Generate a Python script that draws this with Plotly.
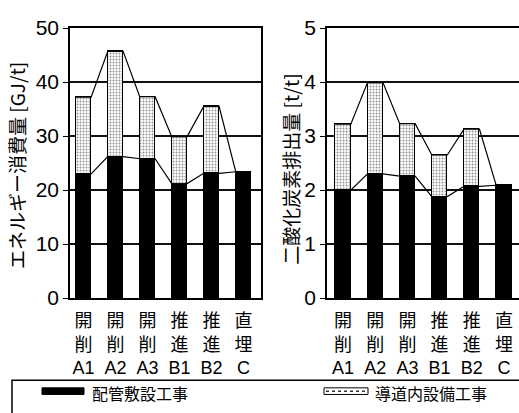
import plotly.graph_objects as go

# ---- data ----
category_kanji = [["開", "削"], ["開", "削"], ["開", "削"], ["推", "進"], ["推", "進"], ["直", "埋"]]
category_codes = ["A1", "A2", "A3", "B1", "B2", "C"]
energy_pipe = [23.0, 26.2, 25.8, 21.2, 23.1, 23.4]      # 配管敷設工事 [GJ/t]
energy_total = [37.2, 45.7, 37.3, 29.9, 35.5, 23.4]     # total [GJ/t]
co2_pipe = [2.00, 2.30, 2.26, 1.88, 2.07, 2.09]         # 配管敷設工事 [t/t]
co2_total = [3.22, 3.99, 3.23, 2.65, 3.13, 2.09]        # total [t/t]
y1_ticks = [0, 10, 20, 30, 40, 50]
y2_ticks = [0, 1, 2, 3, 4, 5]
series_names = ["配管敷設工事", "導道内設備工事"]
y1_title = "エネルギー消費量 [GJ/t]"
y2_title = "二酸化炭素排出量 [t/t]"

W, H = 519, 413
BW = 0.48
FONT = "Liberation Sans, Arial, Noto Sans CJK JP"
XFONT = "Liberation Sans Narrow, Liberation Sans, Noto Sans CJK JP"
JFONT = "Noto Sans CJK JP, Liberation Sans"

idx = list(range(len(category_codes)))
energy_fac = [t - p for t, p in zip(energy_total, energy_pipe)]
co2_fac = [t - p for t, p in zip(co2_total, co2_pipe)]
tick_text = ["<br>".join(k + [c]) for k, c in zip(category_kanji, category_codes)]

def px(x):
    return x / W

def py(y):
    return 1 - y / H

fig = go.Figure()

def add_panel(pipe, fac, total, xa, ya):
    fig.add_trace(go.Bar(x=idx, y=pipe, width=BW, xaxis=xa, yaxis=ya,
                         marker=dict(color="black", line=dict(color="black", width=1.5)),
                         showlegend=False))
    fig.add_trace(go.Bar(x=idx, y=fac, width=BW, xaxis=xa, yaxis=ya,
                         marker=dict(color="white", line=dict(color="black", width=1.5),
                                     pattern=dict(shape=".", fgcolor="#222", bgcolor="white",
                                                  size=3, solidity=0.35)),
                         showlegend=False))
    # connecting lines between bar tops
    for vals in (pipe, total):
        xs, ys = [], []
        for i, v in zip(idx, vals):
            xs += [i - BW / 2, i + BW / 2]
            ys += [v, v]
        fig.add_trace(go.Scatter(x=xs, y=ys, mode="lines", xaxis=xa, yaxis=ya,
                                 line=dict(color="black", width=1.2), showlegend=False,
                                 hoverinfo="skip"))

add_panel(energy_pipe, energy_fac, energy_total, "x", "y")
add_panel(co2_pipe, co2_fac, co2_total, "x2", "y2")

ydom = [py(303), py(17)]
xcommon = dict(tickvals=idx, ticktext=tick_text, ticks="", showgrid=False,
               ticklabelstandoff=6,
               tickfont=dict(family=XFONT, size=18, color="black"),
               showline=True, linecolor="black", linewidth=1.5, zeroline=False)
ycommon = dict(showgrid=True, gridcolor="#111", gridwidth=1.5, showline=True,
               linecolor="black", linewidth=1.5, ticks="outside", ticklen=5,
               tickcolor="black", tickfont=dict(family=FONT, size=21, color="black"),
               zeroline=False)

fig.update_layout(
    width=W, height=H, margin=dict(l=0, r=0, t=0, b=0),
    paper_bgcolor="white", plot_bgcolor="white", barmode="stack", bargap=0,
    xaxis=dict(domain=[px(70), px(261)], range=[-0.42, 5.55], mirror=True, anchor="y", **xcommon),
    yaxis=dict(domain=ydom, range=[0, 50], tickvals=y1_ticks, mirror=True, anchor="x", **ycommon),
    xaxis2=dict(domain=[px(327), 1.0], range=[-0.5, 5.47], mirror=True, anchor="y2", **xcommon),
    yaxis2=dict(domain=ydom, range=[0, 5], tickvals=y2_ticks, mirror=False, anchor="x2", **ycommon),
)

annos = [
    dict(text=y1_title, x=px(17), y=py(163), textangle=-90),
    dict(text=y2_title, x=px(291), y=py(167), textangle=-90),
]
for a in annos:
    fig.add_annotation(xref="paper", yref="paper", showarrow=False, xanchor="center",
                       yanchor="middle", font=dict(family=JFONT, size=19, color="black"), **a)

# legend box
fig.add_shape(type="rect", xref="paper", yref="paper", x0=px(12), x1=px(530),
              y0=py(430), y1=py(390), line=dict(color="black", width=1.5), fillcolor="rgba(0,0,0,0)")
fig.add_shape(type="rect", xref="paper", yref="paper", x0=px(42), x1=px(84),
              y0=py(405), y1=py(398), line=dict(color="black", width=1), fillcolor="black")
fig.add_shape(type="rect", xref="paper", yref="paper", x0=px(324), x1=px(368),
              y0=py(405), y1=py(398), line=dict(color="black", width=1), fillcolor="white")
fig.add_shape(type="line", xref="paper", yref="paper", x0=px(326), x1=px(366),
              y0=py(401.5), y1=py(401.5), line=dict(color="#333", width=1.5, dash="dot"))
fig.add_annotation(xref="paper", yref="paper", x=px(90), y=py(403), text=series_names[0],
                   showarrow=False, xanchor="left", yanchor="middle",
                   font=dict(family=JFONT, size=16, color="black"))
fig.add_annotation(xref="paper", yref="paper", x=px(373), y=py(403), text=series_names[1],
                   showarrow=False, xanchor="left", yanchor="middle",
                   font=dict(family=JFONT, size=16, color="black"))

fig.write_html("out.html")
